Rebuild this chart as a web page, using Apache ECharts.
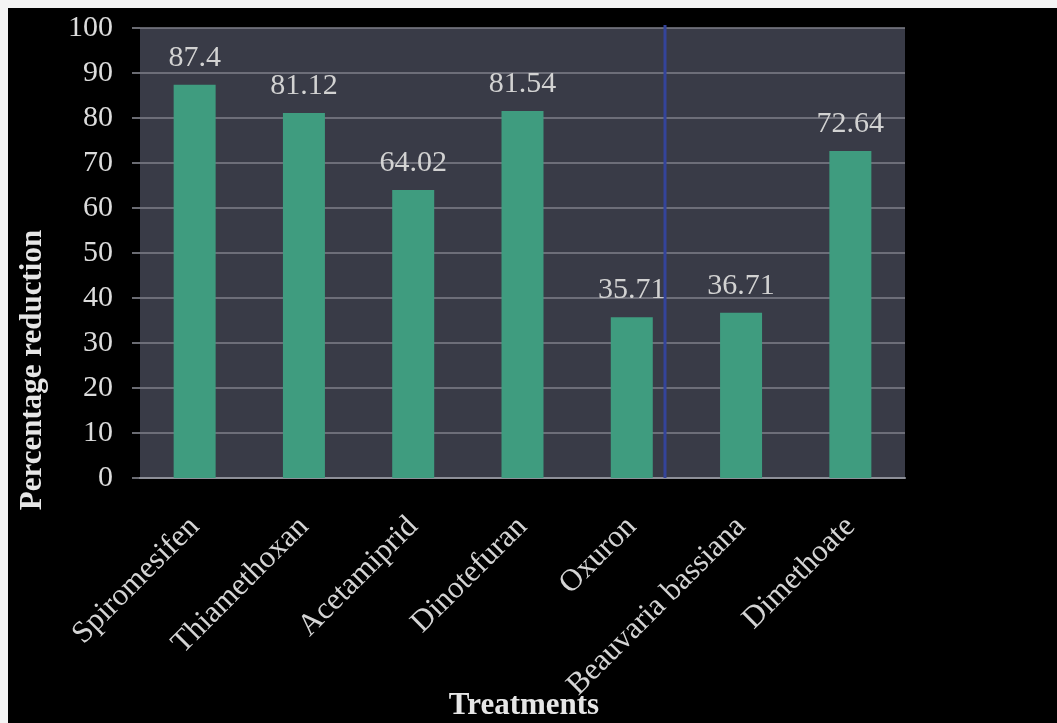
<!DOCTYPE html>
<html>
<head>
<meta charset="utf-8">
<script src="https://cdn.jsdelivr.net/npm/echarts@6/dist/echarts.min.js"></script>
<style>
  html, body { margin: 0; padding: 0; background: #f4f4f4; width: 1057px; height: 723px; overflow: hidden; }
  #chart { position: absolute; left: 8px; top: 8px; width: 1049px; height: 715px; background: #000; }
</style>
</head>
<body>
<div id="chart"></div>
<script>
// Treatments and their percentage reduction
const treatments = ['Spiromesifen', 'Thiamethoxan', 'Acetamiprid', 'Dinotefuran', 'Oxuron', 'Beauvaria bassiana', 'Dimethoate'];
const reduction = [87.4, 81.12, 64.02, 81.54, 35.71, 36.71, 72.64];
const yTicks = [0, 10, 20, 30, 40, 50, 60, 70, 80, 90, 100];

const serif = '"Liberation Serif", "DejaVu Serif", serif';

const chart = echarts.init(document.getElementById('chart'), null, { renderer: 'canvas' });

chart.setOption({
  backgroundColor: '#000',
  animation: false,
  grid: {
    left: 132, top: 20, width: 765, height: 450,
    outerBoundsMode: 'none', containLabel: false,
    show: true, backgroundColor: '#393b47', borderWidth: 0
  },
  xAxis: {
    type: 'category',
    data: treatments,
    axisLine: { show: true, lineStyle: { color: '#8d8f98', width: 2 } },
    axisTick: { show: false },
    axisLabel: {
      interval: 0, rotate: 45, margin: 44,
      color: '#d4d4d4', fontFamily: serif, fontSize: 31
    }
  },
  yAxis: {
    type: 'value',
    min: yTicks[0], max: yTicks[yTicks.length - 1], interval: 10,
    axisLine: { show: false },
    axisTick: { show: true, length: 8, lineStyle: { color: '#8d8f98', width: 1.5 } },
    axisLabel: {
      margin: 27, color: '#dcdcdc', fontFamily: serif, fontSize: 30,
      formatter: v => String(v)
    },
    splitLine: { show: true, lineStyle: { color: '#7f818a', width: 1.5 } }
  },
  series: [{
    type: 'bar',
    data: reduction,
    barWidth: 42,
    itemStyle: { color: '#3f9c7f' },
    label: {
      show: true, position: 'top', distance: 12,
      color: '#d2d2d2', fontFamily: serif, fontSize: 30,
      formatter: p => String(p.value)
    }
  }],
  graphic: [
    {
      type: 'text',
      x: 25, y: 362,
      rotation: Math.PI / 2,
      style: {
        text: 'Percentage reduction',
        fill: '#e6e6e6',
        font: 'bold 31px ' + serif,
        align: 'center',
        verticalAlign: 'middle'
      }
    },
    {
      type: 'text',
      x: 516, y: 698,
      z: 10,
      style: {
        text: 'Treatments',
        fill: '#e6e6e6',
        font: 'bold 31px ' + serif,
        align: 'center',
        verticalAlign: 'middle'
      }
    },
    {
      type: 'line',
      z: 1,
      shape: { x1: 657, y1: 17, x2: 657, y2: 470 },
      style: { stroke: '#34449a', lineWidth: 3 }
    }
  ]
});
</script>
</body>
</html>
